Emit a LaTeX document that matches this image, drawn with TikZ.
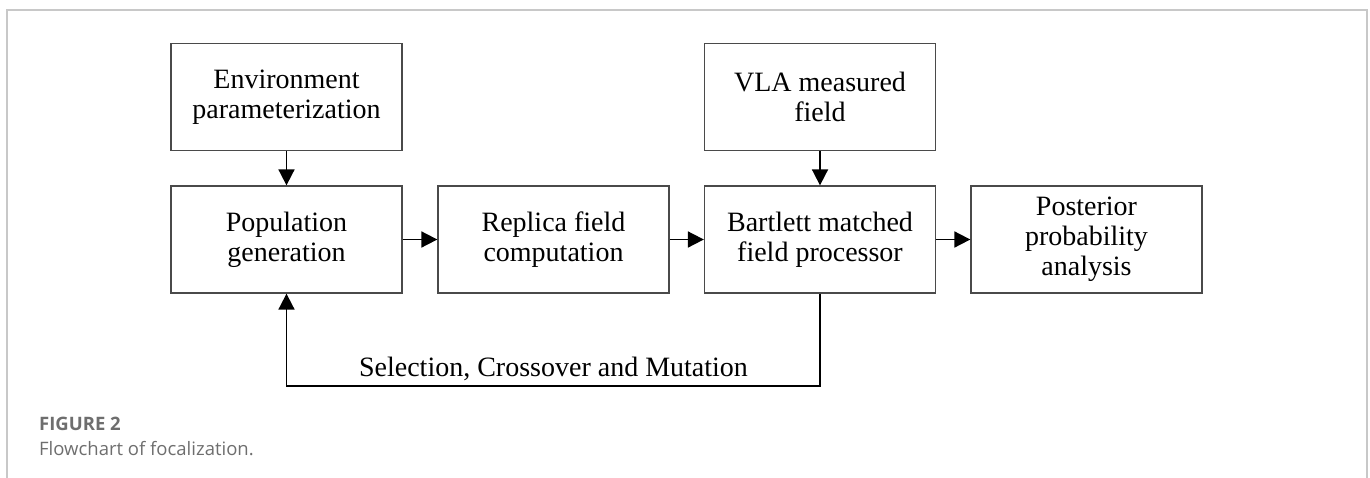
\documentclass[tikz,border=0pt]{standalone}
\usepackage{fontspec}
\setmainfont{Liberation Serif}
\newfontfamily\capfont{Open Sans}
\usetikzlibrary{arrows.meta}
\definecolor{framegray}{HTML}{C8C8C8}
\definecolor{boxgray}{HTML}{4A4A4A}
\definecolor{capgray}{HTML}{6E6E6E}
\tikzset{
  blk/.style={draw=boxgray, line width=1.3pt, minimum width=231pt, minimum height=107pt,
    align=center, inner sep=0pt, font=\fontsize{28}{30}\selectfont},
  flow/.style={line width=1.8pt, -{Triangle[length=16pt,width=16pt]}},
  lbl/.style={font=\fontsize{28}{30}\selectfont, inner sep=0pt}
}
\begin{document}
\begin{tikzpicture}[x=1pt,y=-1pt]
\useasboundingbox (0,0) rectangle (1370,477);
\draw[framegray, line width=2pt] (7,480) -- (7,10) -- (1367,10) -- (1367,480);
\node[blk] (env) at (286.5,97) {Environment\\parameterization};
\node[blk] (pop) at (286.5,239.5) {Population\\generation};
\node[blk] (rep) at (553.5,239.5) {Replica field\\computation};
\node[blk] (bar) at (820,239.5) {Bartlett matched\\field processor};
\node[blk] (post) at (1086.5,239.5) {Posterior\\probability\\analysis};
\node[blk] (vla) at (820,97) {VLA measured\\field};
\coordinate (c1) at (820,386);
\coordinate (c2) at (286.5,386);
\draw[flow] (env) -- (pop);
\draw[flow] (vla) -- (bar);
\draw[flow] (pop) -- (rep);
\draw[flow] (rep) -- (bar);
\draw[flow] (bar) -- (post);
\draw[flow] (bar.south) -- (c1) -- (c2) -- (pop.south);
\node[lbl, anchor=base] (sel) at (553.5,376) {Selection, Crossover and Mutation};
\node[anchor=base west, inner sep=0pt, text=capgray, font=\capfont\bfseries\fontsize{18.5}{20}\selectfont] (fig) at (39,430) {FIGURE 2};
\node[anchor=base west, inner sep=0pt, text=capgray, font=\capfont\fontsize{18.5}{20}\selectfont] (cap) at (39,455) {Flowchart of focalization.};
\end{tikzpicture}
\end{document}
